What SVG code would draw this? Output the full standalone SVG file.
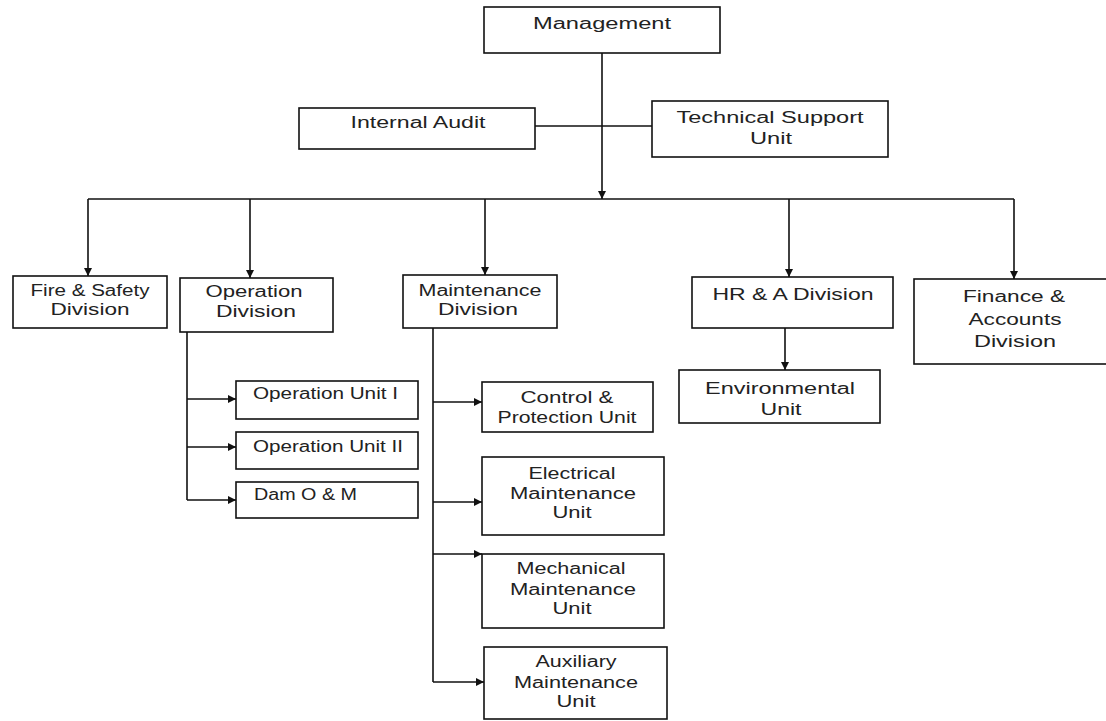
<svg xmlns="http://www.w3.org/2000/svg" width="1106" height="721" viewBox="0 0 1106 721">
<style>
.box{fill:#fff;stroke:#111;stroke-width:1.6}
.t{font-family:"Liberation Sans",Arial,sans-serif;font-size:16px;fill:#222;text-anchor:middle}
.s{text-anchor:start}
.ln{fill:none;stroke:#111;stroke-width:1.6}
</style>
<defs>
<marker id="ah" markerUnits="userSpaceOnUse" markerWidth="9" markerHeight="9" refX="8" refY="4" orient="auto"><path d="M0,0 L8,4 L0,8 z" fill="#111"/></marker>
</defs>
<rect width="1106" height="721" fill="#fff"/>
<g id="connectors">
<line class="ln" x1="602" y1="53" x2="602" y2="199" marker-end="url(#ah)"/>
<line class="ln" x1="535" y1="126" x2="652" y2="126"/>
<line class="ln" x1="88" y1="199" x2="1014" y2="199"/>
<line class="ln" x1="88" y1="199" x2="88" y2="276" marker-end="url(#ah)"/>
<line class="ln" x1="250" y1="199" x2="250" y2="278" marker-end="url(#ah)"/>
<line class="ln" x1="485" y1="199" x2="485" y2="275" marker-end="url(#ah)"/>
<line class="ln" x1="789" y1="199" x2="789" y2="277" marker-end="url(#ah)"/>
<line class="ln" x1="1014" y1="199" x2="1014" y2="279" marker-end="url(#ah)"/>
<line class="ln" x1="785" y1="328" x2="785" y2="370" marker-end="url(#ah)"/>
<line class="ln" x1="187" y1="332" x2="187" y2="500"/>
<line class="ln" x1="187" y1="399" x2="236" y2="399" marker-end="url(#ah)"/>
<line class="ln" x1="187" y1="447" x2="236" y2="447" marker-end="url(#ah)"/>
<line class="ln" x1="187" y1="500" x2="236" y2="500" marker-end="url(#ah)"/>
<line class="ln" x1="433" y1="328" x2="433" y2="682"/>
<line class="ln" x1="433" y1="402" x2="482" y2="402" marker-end="url(#ah)"/>
<line class="ln" x1="433" y1="502" x2="482" y2="502" marker-end="url(#ah)"/>
<line class="ln" x1="433" y1="554" x2="482" y2="554" marker-end="url(#ah)"/>
<line class="ln" x1="433" y1="682" x2="484" y2="682" marker-end="url(#ah)"/>
</g>
<g id="management"><rect class="box" x="484" y="7" width="236" height="46"/><text class="t" x="602" y="29" textLength="138" lengthAdjust="spacingAndGlyphs">Management</text></g>
<g id="internal-audit"><rect class="box" x="299" y="108" width="236" height="41"/><text class="t" x="418" y="128" textLength="135" lengthAdjust="spacingAndGlyphs">Internal Audit</text></g>
<g id="technical-support"><rect class="box" x="652" y="101" width="236" height="56"/><text class="t" x="770" y="123" textLength="187" lengthAdjust="spacingAndGlyphs">Technical Support</text><text class="t" x="771" y="144" textLength="42" lengthAdjust="spacingAndGlyphs">Unit</text></g>
<g id="fire-safety"><rect class="box" x="13" y="276" width="154" height="52"/><text class="t" x="90" y="296" textLength="119" lengthAdjust="spacingAndGlyphs">Fire &amp; Safety</text><text class="t" x="90" y="315" textLength="79" lengthAdjust="spacingAndGlyphs">Division</text></g>
<g id="operation-division"><rect class="box" x="180" y="278" width="153" height="54"/><text class="t" x="254" y="297" textLength="97" lengthAdjust="spacingAndGlyphs">Operation</text><text class="t" x="256" y="317" textLength="80" lengthAdjust="spacingAndGlyphs">Division</text></g>
<g id="maintenance-division"><rect class="box" x="403" y="275" width="154" height="53"/><text class="t" x="480" y="296" textLength="123" lengthAdjust="spacingAndGlyphs">Maintenance</text><text class="t" x="478" y="315" textLength="80" lengthAdjust="spacingAndGlyphs">Division</text></g>
<g id="hr-a-division"><rect class="box" x="692" y="277" width="201" height="51"/><text class="t" x="793" y="300" textLength="161" lengthAdjust="spacingAndGlyphs">HR &amp; A Division</text></g>
<g id="finance-accounts"><rect class="box" x="914" y="279" width="200" height="85"/><text class="t" x="1014" y="302" textLength="102" lengthAdjust="spacingAndGlyphs">Finance &amp;</text><text class="t" x="1015" y="325" textLength="93" lengthAdjust="spacingAndGlyphs">Accounts</text><text class="t" x="1015" y="347" textLength="82" lengthAdjust="spacingAndGlyphs">Division</text></g>
<g id="environmental-unit"><rect class="box" x="679" y="370" width="201" height="53"/><text class="t" x="780" y="394" textLength="150" lengthAdjust="spacingAndGlyphs">Environmental</text><text class="t" x="781" y="415" textLength="41" lengthAdjust="spacingAndGlyphs">Unit</text></g>
<g id="operation-unit-1"><rect class="box" x="236" y="381" width="182" height="38"/><text class="t s" x="253" y="399" textLength="145" lengthAdjust="spacingAndGlyphs">Operation Unit I</text></g>
<g id="operation-unit-2"><rect class="box" x="236" y="432" width="182" height="37"/><text class="t s" x="253" y="452" textLength="150" lengthAdjust="spacingAndGlyphs">Operation Unit II</text></g>
<g id="dam-om"><rect class="box" x="236" y="482" width="182" height="36"/><text class="t s" x="254" y="500" textLength="103" lengthAdjust="spacingAndGlyphs">Dam O &amp; M</text></g>
<g id="control-protection"><rect class="box" x="482" y="382" width="171" height="50"/><text class="t" x="567" y="403" textLength="93" lengthAdjust="spacingAndGlyphs">Control &amp;</text><text class="t" x="567" y="423" textLength="139" lengthAdjust="spacingAndGlyphs">Protection Unit</text></g>
<g id="electrical-maintenance"><rect class="box" x="482" y="457" width="182" height="78"/><text class="t" x="572" y="479" textLength="87" lengthAdjust="spacingAndGlyphs">Electrical</text><text class="t" x="573" y="499" textLength="126" lengthAdjust="spacingAndGlyphs">Maintenance</text><text class="t" x="572" y="518" textLength="39" lengthAdjust="spacingAndGlyphs">Unit</text></g>
<g id="mechanical-maintenance"><rect class="box" x="482" y="554" width="182" height="74"/><text class="t" x="571" y="574" textLength="109" lengthAdjust="spacingAndGlyphs">Mechanical</text><text class="t" x="573" y="595" textLength="126" lengthAdjust="spacingAndGlyphs">Maintenance</text><text class="t" x="572" y="614" textLength="39" lengthAdjust="spacingAndGlyphs">Unit</text></g>
<g id="auxiliary-maintenance"><rect class="box" x="484" y="647" width="183" height="72"/><text class="t" x="576" y="667" textLength="81" lengthAdjust="spacingAndGlyphs">Auxiliary</text><text class="t" x="576" y="688" textLength="124" lengthAdjust="spacingAndGlyphs">Maintenance</text><text class="t" x="576" y="707" textLength="39" lengthAdjust="spacingAndGlyphs">Unit</text></g>
</svg>
